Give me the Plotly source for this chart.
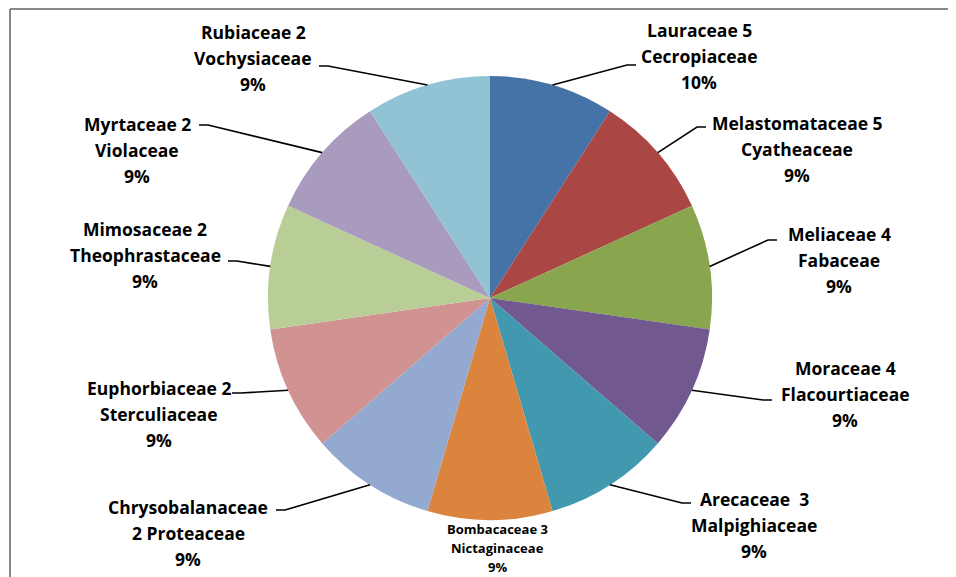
import math
import plotly.graph_objects as go

# slices, clockwise from 12 o'clock
categories = [
    "Lauraceae 5<br>Cecropiaceae",
    "Melastomataceae 5<br>Cyatheaceae",
    "Meliaceae 4<br>Fabaceae",
    "Moraceae 4<br>Flacourtiaceae",
    "Arecaceae  3<br>Malpighiaceae",
    "Bombacaceae 3<br>Nictaginaceae",
    "Chrysobalanaceae<br>2 Proteaceae",
    "Euphorbiaceae 2<br>Sterculiaceae",
    "Mimosaceae 2<br>Theophrastaceae",
    "Myrtaceae 2<br>Violaceae",
    "Rubiaceae 2<br>Vochysiaceae",
]
shares = [1, 1, 1, 1, 1, 1, 1, 1, 1, 1, 1]
pct_labels = ["10%", "9%", "9%", "9%", "9%", "9%", "9%", "9%", "9%", "9%", "9%"]

colors = ["#4572A7", "#AA4643", "#89A54E", "#71588F", "#4198AF", "#DB843D",
          "#93A9CF", "#D19392", "#B9CD96", "#A99BBD", "#92C3D4"]

W, H = 956, 577
OFF = 8  # page margin around the plot div
cx, cy, r = 490, 298, 222

# label placement (page pixels): text centre x, first line y, leader elbow (None = no leader)
lab_x = [699, 797, 839, 845, 754, 497, 188, 159, 145, 137, 253]
lab_y = [30, 123, 234, 368, 499, 529, 507, 388, 229, 124, 32]
elbows = [(627, 65), (697, 127), (768, 240), (763, 400), (682, 503), None,
          (285, 510), (241, 393), (237, 261), (208, 125), (328, 66)]

fig = go.Figure()
fig.add_trace(go.Pie(
    values=shares, labels=categories, sort=False, direction="clockwise", rotation=0,
    marker=dict(colors=colors, line=dict(width=0)),
    textinfo="none", hoverinfo="label+percent",
    domain=dict(x=[(cx - r - OFF) / W, (cx + r - OFF) / W],
                y=[1 - (cy + r - OFF) / H, 1 - (cy - r - OFF) / H]),
))

shapes = [
    dict(type="line", xref="x", yref="y", x0=10, y0=9, x1=W + OFF, y1=9, line=dict(color="#888888", width=2)),
    dict(type="line", xref="x", yref="y", x0=10, y0=9, x1=10, y1=H + OFF, line=dict(color="#888888", width=2)),
]
annotations = []
total = sum(shares)
acc = 0
for i, cat in enumerate(categories):
    mid = (acc + shares[i] / 2) / total * 2 * math.pi
    acc += shares[i]
    small = elbows[i] is None
    size = 13 if small else 17.5
    gap = 19 if small else 26
    lines = cat.split("<br>") + [pct_labels[i]]
    for k, txt in enumerate(lines):
        annotations.append(dict(
            x=lab_x[i], y=lab_y[i] + k * gap, xref="x", yref="y", text=txt,
            showarrow=False, xanchor="center", yanchor="middle",
            font=dict(family="Open Sans", size=size, color="black", weight="bold"),
        ))
    if not small:
        ex0 = cx + r * math.sin(mid)
        ey0 = cy - r * math.cos(mid)
        ex, ey = elbows[i]
        end = ex + (9 if ex > cx else -9)
        shapes.append(dict(type="path", xref="x", yref="y",
                           path=f"M{ex0:.1f},{ey0:.1f} L{ex},{ey} L{end},{ey}",
                           line=dict(color="black", width=1.6)))

fig.update_layout(
    width=W, height=H, margin=dict(l=0, r=0, t=0, b=0),
    paper_bgcolor="white", plot_bgcolor="white", showlegend=False,
    xaxis=dict(range=[OFF, W + OFF], visible=False, fixedrange=True),
    yaxis=dict(range=[H + OFF, OFF], visible=False, fixedrange=True),
    shapes=shapes, annotations=annotations,
)
fig.write_html("out.html")
